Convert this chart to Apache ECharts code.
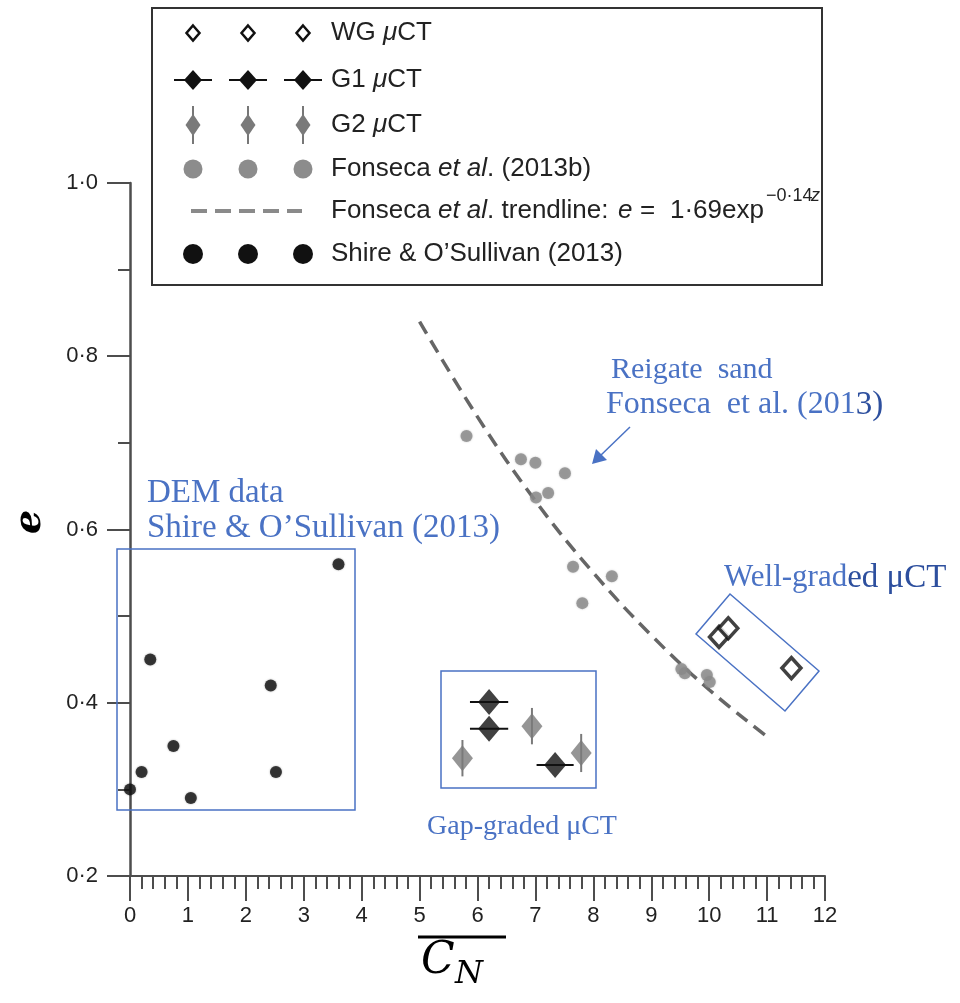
<!DOCTYPE html>
<html>
<head>
<meta charset="utf-8">
<script src="https://cdn.jsdelivr.net/npm/echarts@6/dist/echarts.min.js"></script>
<style>
  html, body { margin: 0; padding: 0; background: #fff; }
  #chart { width: 960px; height: 1003px; }
</style>
</head>
<body>
<div id="chart"></div>
<script>
// Mean coordination number (C_N) against void ratio (e)

// Shire & O'Sullivan (2013) DEM data
const shireCN = [0.00, 0.20, 0.35, 0.75, 1.05, 2.43, 2.52, 3.60];
const shireE  = [0.300, 0.320, 0.450, 0.350, 0.290, 0.420, 0.320, 0.560];

// Fonseca et al. (2013b) Reigate sand
const fonsecaCN = [5.81, 6.75, 7.00, 7.51, 7.22, 7.01, 7.65, 7.81, 8.32, 9.52, 9.58, 9.96, 10.01];
const fonsecaE  = [0.708, 0.681, 0.677, 0.665, 0.642, 0.637, 0.557, 0.515, 0.546, 0.439, 0.434, 0.432, 0.424];

// Fonseca et al. trendline
const trendCN = [5, 6, 7, 8, 9, 10, 11];
const trendE  = [0.840, 0.730, 0.633, 0.550, 0.478, 0.415, 0.361];

// G1 (gap-graded) µCT with spread in C_N
const g1CN  = [6.20, 6.20, 7.34];
const g1E   = [0.401, 0.370, 0.328];
const g1Err = [0.33, 0.33, 0.32];

// G2 (gap-graded) µCT with spread in e
const g2CN  = [5.74, 6.94, 7.79];
const g2E   = [0.336, 0.373, 0.342];
const g2Err = [0.021, 0.021, 0.022];

// WG (well-graded) µCT
const wgCN = [10.17, 10.33, 11.42];
const wgE  = [0.476, 0.486, 0.440];

// Axis ranges and tick labels
const xMin = 0, xMax = 12, xStep = 1;
const yMin = 0.2, yMax = 1.0, yStep = 0.2;
const fmtY = v => v.toFixed(1).replace('.', '·');

const zip = (a, b, c) => a.map((v, i) => c ? [v, b[i], c[i]] : [v, b[i]]);

const chart = echarts.init(document.getElementById('chart'), null, { renderer: 'canvas' });

const AXIS = '#4d4d4d';
const BLUE = '#4a72c4';
const BLUE_D = '#2d4f9e';
const SANS = 'Liberation Sans, Arial, sans-serif';
const SERIF = 'Liberation Serif, Times New Roman, serif';

function hBar(params, api) {
  const x = api.value(0), y = api.value(1), err = api.value(2);
  const a = api.coord([x - err, y]);
  const b = api.coord([x + err, y]);
  return { type: 'line', shape: { x1: a[0], y1: a[1], x2: b[0], y2: b[1] },
           style: { stroke: '#111', lineWidth: 2 } };
}
function vBar(params, api) {
  const x = api.value(0), y = api.value(1), err = api.value(2);
  const a = api.coord([x, y - err]);
  const b = api.coord([x, y + err]);
  return { type: 'line', shape: { x1: a[0], y1: a[1], x2: b[0], y2: b[1] },
           style: { stroke: '#7a7a7a', lineWidth: 2 } };
}

// ---- legend (three sample symbols per row) ----
const legendRows = [
  { kind: 'wg',    label: '{t|WG }{i|μ}{t|CT}' },
  { kind: 'g1',    label: '{t|G1 }{i|μ}{t|CT}' },
  { kind: 'g2',    label: '{t|G2 }{i|μ}{t|CT}' },
  { kind: 'fon',   label: '{t|Fonseca }{i|et al}{t|. (2013b)}' },
  { kind: 'trend', label: '{t|Fonseca }{i|et al}{t|. trendline:}' },
  { kind: 'shire', label: '{t|Shire & O’Sullivan (2013)}' }
];
const legendRowY = [33, 80, 125, 169, 211, 254];
const legendSymX = [193, 248, 303];
const legendTextX = 331;
const LFS = 26;
const rich = {
  t: { fontFamily: SANS, fontSize: LFS, fill: '#222' },
  i: { fontFamily: SANS, fontSize: LFS, fontStyle: 'italic', fill: '#222' }
};

function diamond(cx, cy, w, h, style) {
  return { type: 'polygon', shape: { points: [[cx, cy - h / 2], [cx + w / 2, cy], [cx, cy + h / 2], [cx - w / 2, cy]] },
           style: style, z: 20 };
}
function ltext(x, y, s, font) {
  return { type: 'text', x: x, y: y, z: 20,
    style: { text: s, font: font, fill: '#222', verticalAlign: 'middle', align: 'left' } };
}

const legendEls = [
  { type: 'rect', shape: { x: 152, y: 8, width: 670, height: 277 },
    style: { fill: '#fff', stroke: '#333', lineWidth: 2 }, z: 10 }
];
legendRows.forEach((row, r) => {
  const cy = legendRowY[r];
  if (row.kind === 'trend') {
    legendEls.push({ type: 'line', shape: { x1: 191, y1: cy, x2: 302, y2: cy },
      style: { stroke: '#8a8a8a', lineWidth: 4, lineDash: [16, 8] }, z: 20 });
  } else {
    legendSymX.forEach(cx => {
      if (row.kind === 'wg') {
        legendEls.push(diamond(cx, cy, 13, 15, { fill: '#fff', stroke: '#111', lineWidth: 2.5 }));
      } else if (row.kind === 'g1') {
        legendEls.push({ type: 'line', shape: { x1: cx - 19, y1: cy, x2: cx + 19, y2: cy },
          style: { stroke: '#111', lineWidth: 2 }, z: 20 });
        legendEls.push(diamond(cx, cy, 18, 20, { fill: '#111' }));
      } else if (row.kind === 'g2') {
        legendEls.push({ type: 'line', shape: { x1: cx, y1: cy - 19, x2: cx, y2: cy + 19 },
          style: { stroke: '#777', lineWidth: 2 }, z: 20 });
        legendEls.push(diamond(cx, cy, 15, 22, { fill: '#7a7a7a' }));
      } else if (row.kind === 'fon') {
        legendEls.push({ type: 'circle', shape: { cx: cx, cy: cy, r: 9.5 },
          style: { fill: '#8c8c8c' }, z: 20 });
      } else if (row.kind === 'shire') {
        legendEls.push({ type: 'circle', shape: { cx: cx, cy: cy, r: 10 },
          style: { fill: '#111' }, z: 20 });
      }
    });
  }
  legendEls.push({ type: 'text', x: legendTextX, y: cy, z: 20,
    style: { text: row.label, rich: rich, verticalAlign: 'middle', align: 'left' } });
});
// trendline formula: e = 1·69 exp^(−0·14z)
const fy = legendRowY[4];
legendEls.push(ltext(618, fy, 'e', 'italic ' + LFS + 'px ' + SANS));
legendEls.push(ltext(640, fy, '=', LFS + 'px ' + SANS));
legendEls.push(ltext(670, fy, '1·69', LFS + 'px ' + SANS));
legendEls.push(ltext(722, fy, 'exp', LFS + 'px ' + SANS));
legendEls.push(ltext(766, fy - 15, '−0·14', '18px ' + SANS));
legendEls.push(ltext(811, fy - 15, 'z', 'italic 18px ' + SANS));

// ---- annotations ----
const annEls = [
  { type: 'rect', shape: { x: 117, y: 549, width: 238, height: 261 },
    style: { fill: 'none', stroke: BLUE, lineWidth: 1.5 }, z: 5 },
  { type: 'rect', shape: { x: 441, y: 671, width: 155, height: 117 },
    style: { fill: 'none', stroke: BLUE, lineWidth: 1.5 }, z: 5 },
  { type: 'polygon', shape: { points: [[696, 634], [730, 594], [819, 671], [785, 711]] },
    style: { fill: 'none', stroke: BLUE, lineWidth: 1.5 }, z: 5 },
  { type: 'text', x: 147, y: 493, z: 5,
    style: { text: 'DEM data', font: '33px ' + SERIF, fill: BLUE, verticalAlign: 'middle' } },
  { type: 'text', x: 147, y: 528, z: 5,
    style: { text: 'Shire & O’Sullivan (2013)', font: '33px ' + SERIF, fill: BLUE, verticalAlign: 'middle' } },
  { type: 'text', x: 611, y: 370, z: 5,
    style: { text: 'Reigate  sand', font: '30px ' + SERIF, fill: BLUE, verticalAlign: 'middle' } },
  { type: 'text', x: 606, y: 405, z: 5,
    style: { text: '{a|Fonseca  et al. (201}{b|3)}', verticalAlign: 'middle',
      rich: { a: { font: '32px ' + SERIF, fill: BLUE }, b: { font: '33px ' + SERIF, fill: BLUE_D } } } },
  { type: 'text', x: 724, y: 578, z: 5,
    style: { text: '{a|Well-grad}{b|ed μCT}', verticalAlign: 'middle',
      rich: { a: { font: '31px ' + SERIF, fill: BLUE }, b: { font: '33px ' + SERIF, fill: BLUE_D } } } },
  { type: 'text', x: 427, y: 827, z: 5,
    style: { text: 'Gap-graded μCT', font: '28px ' + SERIF, fill: BLUE, verticalAlign: 'middle' } },
  { type: 'line', shape: { x1: 630, y1: 427, x2: 600, y2: 456 },
    style: { stroke: BLUE, lineWidth: 1.5 }, z: 5 },
  { type: 'polygon', shape: { points: [[592, 464], [596, 449], [607, 460]] },
    style: { fill: BLUE }, z: 5 }
];

// ---- axis titles ----
const titleEls = [
  { type: 'text', x: 421, y: 962, z: 5,
    style: { text: 'C', font: 'italic 44px DejaVu Serif, serif', fill: '#000', verticalAlign: 'middle' } },
  { type: 'text', x: 455, y: 975, z: 5,
    style: { text: 'N', font: 'italic 32px DejaVu Serif, serif', fill: '#000', verticalAlign: 'middle' } },
  { type: 'line', shape: { x1: 418, y1: 937, x2: 506, y2: 937 },
    style: { stroke: '#000', lineWidth: 3 }, z: 5 },
  { type: 'text', x: 30, y: 522, rotation: Math.PI / 2, z: 5,
    style: { text: 'e', font: 'italic bold 38px DejaVu Serif, serif', fill: '#000',
             align: 'center', verticalAlign: 'middle' } }
];

const option = {
  backgroundColor: '#fff',
  animation: false,
  grid: { left: 130, right: 135, top: 183, bottom: 127, containLabel: false },
  xAxis: {
    type: 'value', min: xMin, max: xMax, interval: xStep,
    axisLine: { show: true, onZero: false, lineStyle: { color: AXIS, width: 2 } },
    axisTick: { show: true, length: 25, lineStyle: { color: AXIS, width: 2 } },
    minorTick: { show: true, splitNumber: 5, length: 13, lineStyle: { color: AXIS, width: 2 } },
    axisLabel: { margin: 29, fontSize: 22, color: '#222', fontFamily: SANS },
    splitLine: { show: false }, minorSplitLine: { show: false }
  },
  yAxis: {
    type: 'value', min: yMin, max: yMax, interval: yStep,
    axisLine: { show: true, onZero: false, lineStyle: { color: AXIS, width: 2.5 } },
    axisTick: { show: true, length: 23, lineStyle: { color: AXIS, width: 2 } },
    minorTick: { show: true, splitNumber: 2, length: 12, lineStyle: { color: AXIS, width: 2 } },
    axisLabel: { margin: 32, fontSize: 22, color: '#222', fontFamily: SANS, formatter: fmtY },
    splitLine: { show: false }, minorSplitLine: { show: false }
  },
  series: [
    { name: 'Fonseca et al. trendline', type: 'line', data: zip(trendCN, trendE),
      smooth: 0.4, showSymbol: false, z: 3,
      lineStyle: { color: '#666', width: 3.5, type: [14, 8] } },
    { name: 'Fonseca et al. (2013b)', type: 'scatter', data: zip(fonsecaCN, fonsecaE),
      symbol: 'circle', symbolSize: 12, z: 4,
      itemStyle: { color: '#8a8a8a', shadowBlur: 2, shadowColor: 'rgba(120,120,120,0.5)' } },
    { name: 'Shire & O’Sullivan (2013)', type: 'scatter', data: zip(shireCN, shireE),
      symbol: 'circle', symbolSize: 12, z: 4,
      itemStyle: { color: '#111', shadowBlur: 2, shadowColor: 'rgba(0,0,0,0.4)' } },
    { name: 'G2 spread', type: 'custom', data: zip(g2CN, g2E, g2Err), renderItem: vBar, z: 4,
      encode: { x: 0, y: 1 } },
    { name: 'G2 µCT', type: 'scatter', data: zip(g2CN, g2E), symbol: 'diamond',
      symbolSize: [21, 26], z: 5, itemStyle: { color: '#7a7a7a' } },
    { name: 'G1 spread', type: 'custom', data: zip(g1CN, g1E, g1Err), renderItem: hBar, z: 4,
      encode: { x: 0, y: 1 } },
    { name: 'G1 µCT', type: 'scatter', data: zip(g1CN, g1E), symbol: 'diamond',
      symbolSize: [22, 26], z: 5, itemStyle: { color: '#111' } },
    { name: 'WG µCT', type: 'scatter', data: zip(wgCN, wgE), symbol: 'diamond',
      symbolSize: [19, 21], z: 6,
      itemStyle: { color: '#fff', borderColor: '#111', borderWidth: 3.5 } }
  ],
  graphic: { elements: [].concat(annEls, titleEls, legendEls) }
};

chart.setOption(option);
</script>
</body>
</html>
